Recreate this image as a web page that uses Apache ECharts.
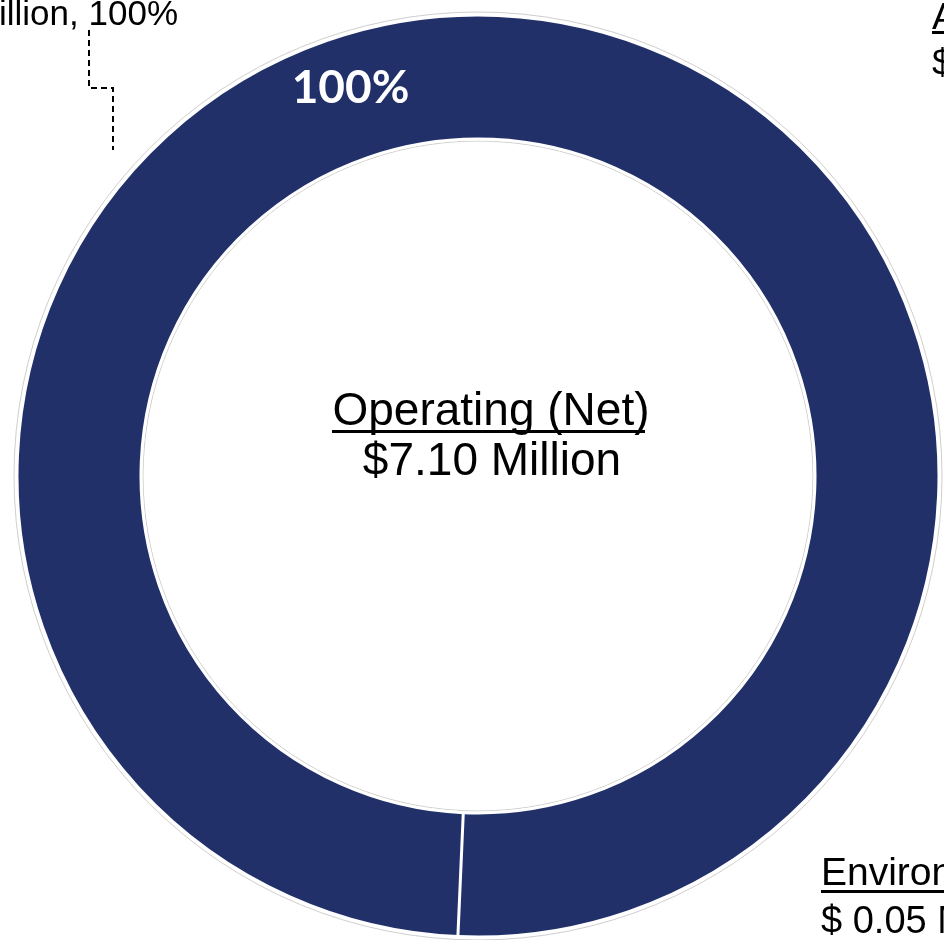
<!DOCTYPE html>
<html>
<head>
<meta charset="utf-8">
<style>
  html, body { margin: 0; padding: 0; background: #fff; }
  #chart { width: 944px; height: 940px; }
</style>
<script src="https://cdn.jsdelivr.net/npm/echarts@6/dist/echarts.min.js"></script>
</head>
<body>
<div id="chart"></div>
<script>
// data
const sliceNames = ['Operating (Net)', 'Other']
const sliceValues = [7.10, 0]
const sliceLabels = ['100%', '']
const centerTitle = 'Operating (Net)'
const centerValue = '$7.10 Million'

const navy = '#22306a'
const font = '"Liberation Sans", Arial, sans-serif'

let chart = echarts.init(document.getElementById('chart'))

let pieData = sliceNames.map((n, i) => ({
  name: n,
  value: sliceValues[i],
  label: { show: sliceLabels[i] !== '' }
}))

let option = {
  backgroundColor: '#fff',
  animation: false,
  series: [
    {
      // thin grey outline behind the ring
      type: 'pie',
      silent: true,
      center: [478, 476],
      radius: [335, 464],
      label: { show: false },
      labelLine: { show: false },
      itemStyle: { color: '#fff', borderColor: '#cfcfcf', borderWidth: 1 },
      data: [{ value: 1 }]
    },
    {
      type: 'pie',
      center: [478, 476],
      radius: [337, 461],
      startAngle: 267.5,
      clockwise: true,
      stillShowZeroSum: true,
      itemStyle: { color: navy, borderColor: '#fff', borderWidth: 3 },
      label: {
        position: 'inside',
        formatter: (p) => sliceLabels[p.dataIndex],
        color: '#fff',
        fontFamily: 'Lato, "Open Sans", sans-serif',
        fontWeight: 'bold',
        fontSize: 46,
        offset: [-145, 14]
      },
      labelLine: { show: false },
      data: pieData
    }
  ],
  graphic: [
    // centre text
    {
      type: 'text', x: 491, y: 389,
      style: { text: centerTitle, font: '46px ' + font, fill: '#000', align: 'center' }
    },
    { type: 'rect', shape: { x: 332, y: 430, width: 313, height: 3 }, style: { fill: '#000' } },
    {
      type: 'text', x: 492, y: 439,
      style: { text: centerValue, font: '46px ' + font, fill: '#000', align: 'center' }
    },
    // cut-off labels from neighbouring charts
    {
      type: 'text', x: 178, y: -2,
      style: { text: '$7.10 Million, 100%', font: '35px ' + font, fill: '#000', align: 'right' }
    },
    {
      type: 'polyline',
      shape: { points: [[89, 30], [89, 88], [113, 88], [113, 150]] },
      style: { stroke: '#000', lineWidth: 2, lineDash: [6, 4], fill: null }
    },
    { type: 'text', x: 932, y: 0, style: { text: 'Administrative', font: '37px ' + font, fill: '#000' } },
    { type: 'rect', shape: { x: 932, y: 31, width: 40, height: 3 }, style: { fill: '#000' } },
    { type: 'text', x: 932, y: 46, style: { text: '$ 0.50 Million', font: '37px ' + font, fill: '#000' } },
    { type: 'text', x: 821, y: 855, style: { text: 'Environmental', font: '39px ' + font, fill: '#000' } },
    { type: 'rect', shape: { x: 821, y: 890, width: 140, height: 3 }, style: { fill: '#000' } },
    { type: 'text', x: 821, y: 904, style: { text: '$ 0.05 Million', font: '38px ' + font, fill: '#000' } }
  ]
}
chart.setOption(option)
</script>
</body>
</html>
